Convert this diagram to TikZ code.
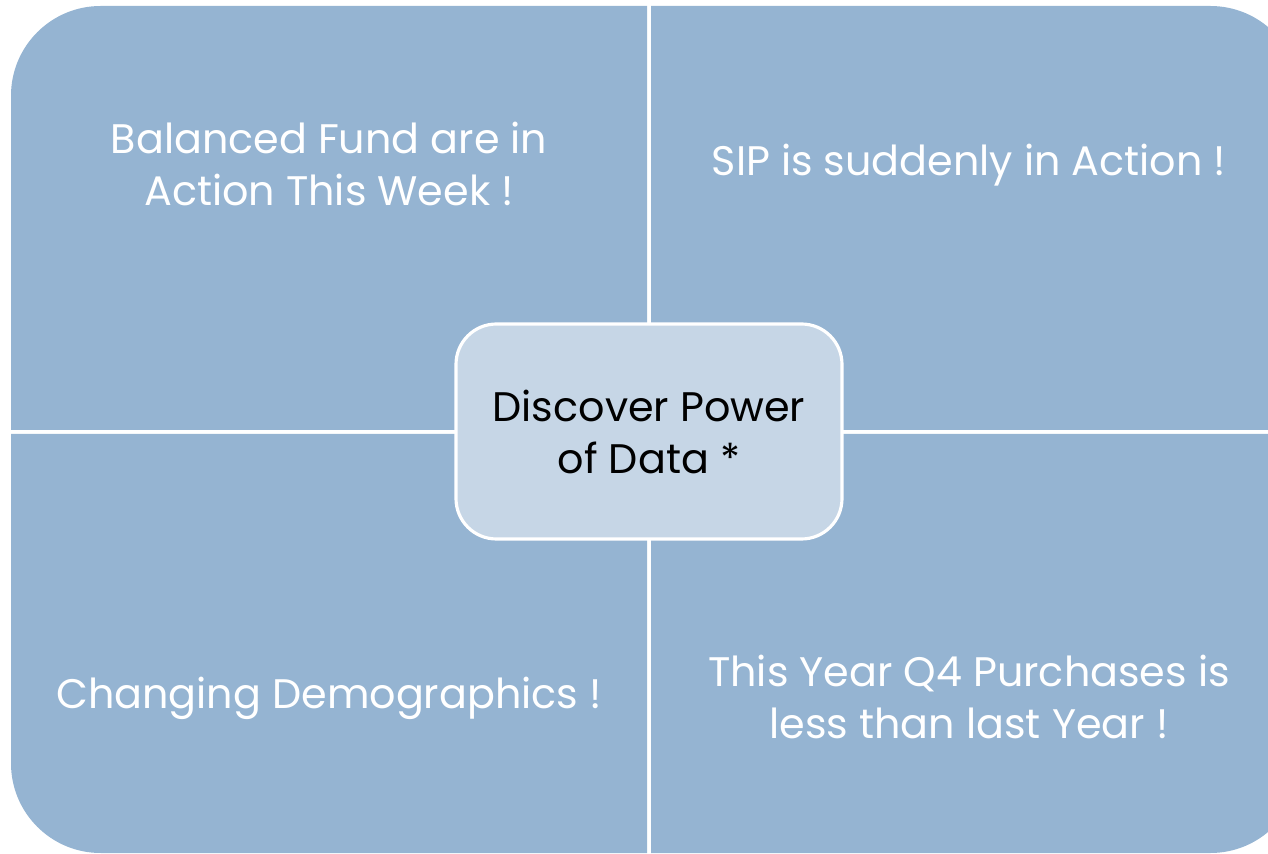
\documentclass[tikz,border=0pt]{standalone}
\usepackage{fontspec}
\setmainfont{Poppins}
\usepackage{tikz}
\definecolor{quadblue}{HTML}{95B4D2}
\definecolor{hubblue}{HTML}{C6D6E6}
\tikzset{
  quadtext/.style={text=white, align=center, font=\fontsize{23.5}{29.6}\selectfont},
  hubtext/.style={text=black, align=center, font=\fontsize{23.5}{29.6}\selectfont}
}

\begin{document}
\begin{tikzpicture}[x=0.02cm, y=-0.02cm]
			%%%%% START %%%%%
			\useasboundingbox (0, 0) rectangle (1268, 854);
			\clip (0, 0) rectangle (1268, 854);
			
			% four quarters, one round corner each
			\fill[quadblue] (647, 6) -- (647, 430) -- (11, 430) [rounded corners=51pt] -- (11, 6) -- (647, 6);
			\fill[quadblue] (651, 430) -- (651, 6) [rounded corners=51pt] -- (1300, 6) [sharp corners] -- (1300, 430) -- cycle;
			\fill[quadblue] (647, 434) -- (647, 853) [rounded corners=51pt] -- (11, 853) [sharp corners] -- (11, 434) -- cycle;
			\fill[quadblue] (651, 434) -- (1300, 434) [rounded corners=51pt] -- (1300, 853) [sharp corners] -- (651, 853) -- cycle;
			
			% centre box
			\draw[white, line width=1.8pt, fill=hubblue, rounded corners=23pt] (456, 324) rectangle (842, 539);
			
			\node[hubtext] (hub) at (649, 432) {Discover Power\\of Data *};
			
			\node[quadtext] (fund) at (329, 164) {Balanced Fund are in\\Action This Week !};
			\node[quadtext] (sip) at (969, 165) {SIP is suddenly in Action !};
			\node[quadtext] (demo) at (329, 698) {Changing Demographics !};
			\node[quadtext] (qfour) at (969, 697) {This Year Q4 Purchases is\\less than last Year !};
			%%%%% END %%%%%
\end{tikzpicture}
\end{document}
